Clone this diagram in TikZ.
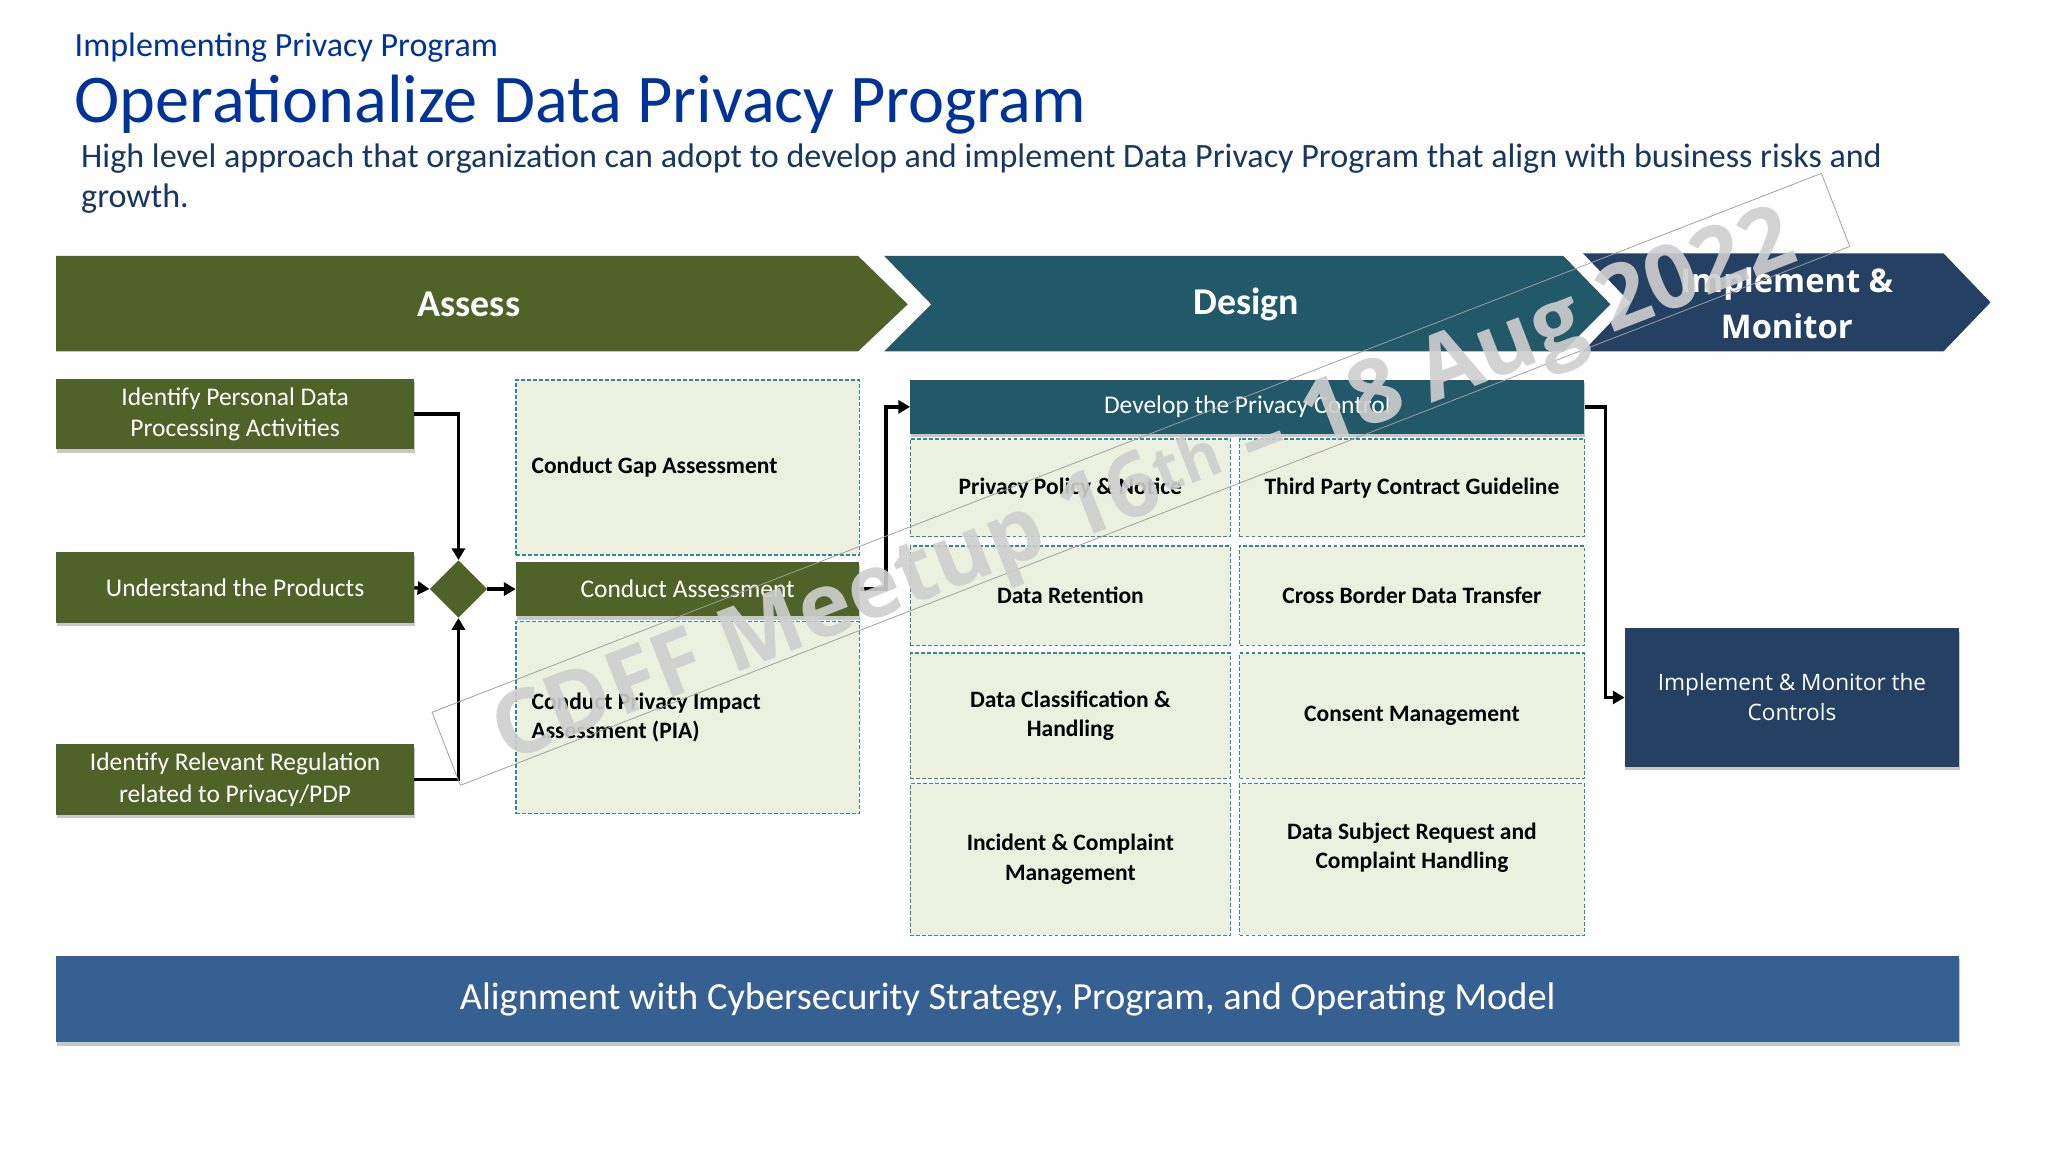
\documentclass[tikz,border=0pt]{standalone}
\usepackage{fontspec}
\setmainfont{Carlito}
\newfontfamily\osans{Open Sans}
\usetikzlibrary{shadows,shapes.geometric,arrows.meta}
\definecolor{agreen}{HTML}{4F6228}
\definecolor{ateal}{HTML}{215968}
\definecolor{anavy}{HTML}{244062}
\definecolor{abanner}{HTML}{376092}
\definecolor{lightfill}{HTML}{EBF1DE}
\definecolor{dashcol}{HTML}{31859C}
\definecolor{titleblue}{HTML}{003399}
\definecolor{subblue}{HTML}{17375E}
\tikzset{
  shadowed/.style={drop shadow={shadow xshift=0.5pt, shadow yshift=-2.5pt, fill=black, opacity=0.22}},
  gbox/.style={fill=agreen, text=white, inner sep=0pt, align=center, shadowed,
    font=\fontsize{19.5}{24}\selectfont},
  dbox/.style={fill=lightfill, draw=dashcol, dash pattern=on 3pt off 1.6pt, line width=1pt,
    inner sep=0pt, align=center, font=\bfseries\fontsize{18}{22.5}\selectfont},
  conn/.style={draw=black, line width=2.6pt, -{Triangle[length=9pt,width=10pt]}},
  hdr/.style={text=white, font=\bfseries\fontsize{29}{34}\selectfont},
  btxt/.style={align=center, font=\bfseries\fontsize{18}{22.5}\selectfont},
}
\begin{document}
\begin{tikzpicture}[x=1pt,y=-1pt]
\fill[white] (0,0) rectangle (1568,882);
\useasboundingbox (0,0) rectangle (1568,882);

% titles
\node[anchor=base west, inner sep=0, text=titleblue, font=\fontsize{26}{30}\selectfont] (kicker) at (57,43) {Implementing Privacy Program};
\node[anchor=base west, inner sep=0, text=titleblue, font=\fontsize{52.3}{60}\selectfont] (title) at (57,94) {Operationalize Data Privacy Program};
\node[anchor=base west, inner sep=0, text=subblue, font=\fontsize{26.1}{31}\selectfont] (sub1) at (62,128) {High level approach that organization can adopt to develop and implement Data Privacy Program that align with business risks and};
\node[anchor=base west, inner sep=0, text=subblue, font=\fontsize{26.1}{31}\selectfont] (sub2) at (62,159) {growth.};

% phase chevrons
\fill[agreen] (43,196) -- (657,196) -- (695,233) -- (657,269) -- (43,269) -- cycle;
\fill[ateal] (677,196) -- (1197,196) -- (1233,233) -- (1197,269) -- (677,269) -- (713,233) -- cycle;
\fill[anavy] (1212,194) -- (1488,194) -- (1524,231.5) -- (1488,269) -- (1212,269) -- (1248,231.5) -- cycle;
\node[hdr] (assess) at (359,233) {Assess};
\node[hdr] (design) at (954,233) {Design};
\node[text=white, align=center, font=\osans\bfseries\fontsize{25}{35}\selectfont] (implhdr) at (1368,232) {Implement \&\\Monitor};

% assess inputs
\node[gbox, minimum width=274pt, minimum height=54pt] (idp) at (180,317) {Identify Personal Data\\Processing Activities};
\node[gbox, minimum width=274pt, minimum height=54pt] (utp) at (180,450) {Understand the Products};
\node[gbox, minimum width=274pt, minimum height=54pt] (irr) at (180,597) {Identify Relevant Regulation\\related to Privacy/PDP};
\node[diamond, aspect=1, fill=agreen, minimum width=44pt, minimum height=44pt, inner sep=0pt] (dia) at (351,451) {};

% assessment column
\node[dbox, minimum width=263pt, minimum height=134pt, text width=239pt, align=flush left] (gap) at (526.5,358) {Conduct Gap Assessment};
\node[gbox, minimum width=263pt, minimum height=42pt] (ca) at (526.5,451) {Conduct Assessment};
\node[dbox, minimum width=263pt, minimum height=147pt, text width=239pt, align=flush left] (pia) at (526.5,549.5) {Conduct Privacy Impact\\Assessment (PIA)};

% design column
\node[gbox, fill=ateal, minimum width=516pt, minimum height=41pt] (dev) at (955,311.5) {Develop the Privacy Control};
\node[dbox, minimum width=245pt, minimum height=75pt] (ppn) at (819.5,373.5) {Privacy Policy \& Notice};
\node[dbox, minimum width=264pt, minimum height=75pt] (tpc) at (1081,373.5) {Third Party Contract Guideline};
\node[dbox, minimum width=245pt, minimum height=76pt] (dr) at (819.5,456) {Data Retention};
\node[dbox, minimum width=264pt, minimum height=76pt] (cbt) at (1081,456) {Cross Border Data Transfer};
\node[dbox, minimum width=245pt, minimum height=96pt] (dch) at (819.5,548) {Data Classification \&\\Handling};
\node[dbox, minimum width=264pt, minimum height=96pt] (cm) at (1081,548) {Consent Management};
\node[dbox, minimum width=245pt, minimum height=116pt] (icm) at (819.5,658) {Incident \& Complaint\\Management};
\node[dbox, minimum width=264pt, minimum height=116pt] (dsr) at (1081,658) {};
\node[btxt] (dsrt) at (1081,649) {Data Subject Request and\\Complaint Handling};

% implement
\node[fill=anavy, text=white, align=center, inner sep=0pt, shadowed, minimum width=256pt, minimum height=106pt,
  font=\osans\fontsize{17.3}{23}\selectfont] (imp) at (1372,534) {Implement \& Monitor the\\Controls};

% banner
\node[fill=abanner, text=white, inner sep=0pt, minimum width=1457pt, minimum height=66pt, shadowed,
  font=\fontsize{29.4}{33}\selectfont] (align) at (771.5,765) {Alignment with Cybersecurity Strategy, Program, and Operating Model};

% connectors
\draw[conn] (idp.east) -| (dia.north);
\draw[conn] (irr.east) -| (dia.south);
\draw[conn] (utp.east) -- (dia.west);
\draw[conn] (dia.east) -- (ca.west);
\draw[conn] (ca.east) -- ++(20,0) |- (dev.west);
\draw[conn] (dev.east) -- ++(16,0) |- (imp.west);

% watermark
\node[rotate=21.2, draw=gray!75, line width=0.6pt, minimum width=1141pt, minimum height=60pt, inner sep=0pt] (wmbox) at (873.5,367) {};
\node[rotate=21.2, text=gray!38, opacity=0.9, inner sep=0pt, font=\osans\bfseries\fontsize{68}{72}\selectfont] (wm) at (877,376) {CDFF Meetup 16\textsuperscript{th} – 18 Aug 2022};
\end{tikzpicture}
\end{document}
